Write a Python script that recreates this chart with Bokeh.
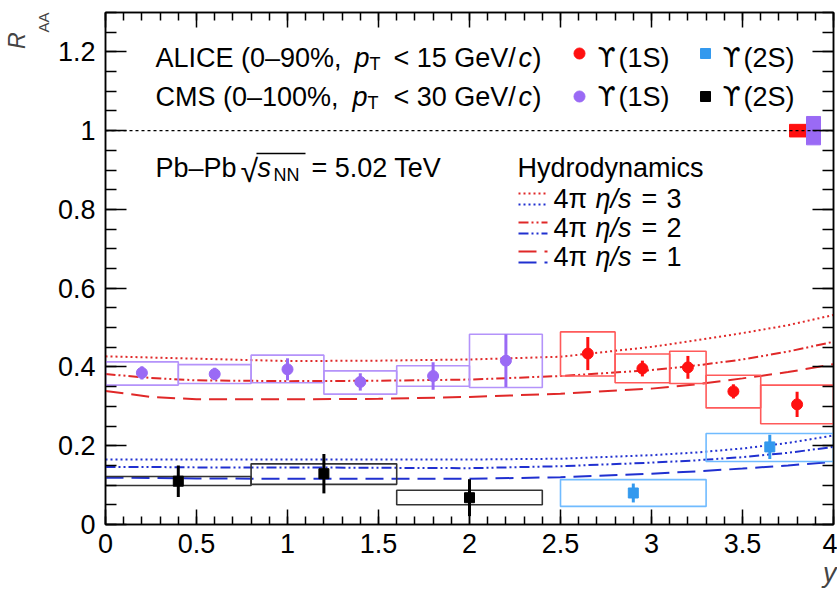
import numpy as np
from bokeh.plotting import figure
from bokeh.models import Range1d, LinearAxis, FixedTicker, Label, Span, Title
from bokeh.embed import file_html
from bokeh.resources import INLINE

FONT = "Liberation Sans"

# ---------------- data ----------------
x_ticks = [0, 0.5, 1, 1.5, 2, 2.5, 3, 3.5, 4]
x_tick_labels = ["0", "0.5", "1", "1.5", "2", "2.5", "3", "3.5", "4"]
y_ticks = [0, 0.2, 0.4, 0.6, 0.8, 1.0, 1.2]
y_tick_labels = ["0", "0.2", "0.4", "0.6", "0.8", "1", "1.2"]

# CMS Upsilon(1S)
cms1s_y = [0.2, 0.6, 1.0, 1.4, 1.8, 2.2]
cms1s_raa = [0.385, 0.382, 0.394, 0.362, 0.377, 0.416]
cms1s_stat = [0.017, 0.016, 0.028, 0.022, 0.035, 0.067]
cms1s_bin_lo = [0.0, 0.4, 0.8, 1.2, 1.6, 2.0]
cms1s_bin_hi = [0.4, 0.8, 1.2, 1.6, 2.0, 2.4]
cms1s_sys_lo = [0.354, 0.358, 0.360, 0.331, 0.351, 0.348]
cms1s_sys_hi = [0.413, 0.406, 0.430, 0.390, 0.403, 0.483]

# CMS Upsilon(2S)
cms2s_y = [0.4, 1.2, 2.0]
cms2s_raa = [0.110, 0.129, 0.068]
cms2s_stat = [0.040, 0.050, 0.047]
cms2s_bin_lo = [0.0, 0.8, 1.6]
cms2s_bin_hi = [0.8, 1.6, 2.4]
cms2s_sys_lo = [0.099, 0.102, 0.050]
cms2s_sys_hi = [0.122, 0.154, 0.087]

# ALICE Upsilon(1S)
alice1s_y = [2.65, 2.95, 3.2, 3.45, 3.8]
alice1s_raa = [0.434, 0.396, 0.399, 0.338, 0.305]
alice1s_stat = [0.042, 0.020, 0.029, 0.018, 0.032]
alice1s_bin_lo = [2.5, 2.8, 3.1, 3.3, 3.6]
alice1s_bin_hi = [2.8, 3.1, 3.3, 3.6, 4.0]
alice1s_sys_lo = [0.377, 0.360, 0.358, 0.296, 0.256]
alice1s_sys_hi = [0.489, 0.433, 0.440, 0.379, 0.354]

# ALICE Upsilon(2S)
alice2s_y = [2.9, 3.65]
alice2s_raa = [0.080, 0.197]
alice2s_stat = [0.024, 0.031]
alice2s_bin_lo = [2.5, 3.3]
alice2s_bin_hi = [3.3, 4.0]
alice2s_sys_lo = [0.046, 0.160]
alice2s_sys_hi = [0.114, 0.231]

# global (correlated) uncertainties at R_AA = 1
global_unc_alice = 0.016
global_unc_cms = 0.036

# hydrodynamics curves
hydro_y = [0, 0.25, 0.5, 1.0, 1.5, 2.0, 2.5, 3.0, 3.25, 3.5, 3.75, 4.0]
hydro_1s_eta3 = [0.427, 0.424, 0.421, 0.415, 0.416, 0.419, 0.426, 0.451, 0.468, 0.486, 0.506, 0.532]
hydro_1s_eta2 = [0.382, 0.372, 0.366, 0.364, 0.365, 0.368, 0.377, 0.392, 0.404, 0.419, 0.439, 0.464]
hydro_1s_eta1 = [0.339, 0.324, 0.318, 0.318, 0.319, 0.324, 0.332, 0.345, 0.356, 0.371, 0.387, 0.407]
hydro_2s_eta3 = [0.165, 0.165, 0.165, 0.165, 0.165, 0.165, 0.167, 0.176, 0.183, 0.193, 0.207, 0.226]
hydro_2s_eta2 = [0.146, 0.146, 0.145, 0.145, 0.144, 0.143, 0.148, 0.157, 0.163, 0.171, 0.182, 0.197]
hydro_2s_eta1 = [0.119, 0.118, 0.117, 0.116, 0.116, 0.116, 0.120, 0.129, 0.135, 0.142, 0.150, 0.159]

# ---------------- styling ----------------
C_ALICE1S = "#ff1010"
C_ALICE1S_BOX = "#ff5a5a"
C_CMS1S = "#9a6af5"
C_CMS1S_BOX = "#b493fa"
C_ALICE2S = "#3399ee"
C_ALICE2S_BOX = "#70bbff"
C_CMS2S = "#000000"
C_CMS2S_BOX = "#333333"
C_HRED = "#e02828"
C_HBLUE = "#2030d0"
DASH3 = "2 3"
DASH2 = "10 3 2 3 2 3"
DASH1 = "18 8"

W, H = 837, 594
X0, X1, Y0, Y1 = 0.0, 4.0, 0.0, 1.3

p = figure(width=W, height=H, x_range=Range1d(X0, X1), y_range=Range1d(Y0, Y1),
           output_backend="svg", toolbar_location=None,
           min_border_left=105, min_border_right=4, min_border_top=12, min_border_bottom=70)
p.xgrid.visible = False
p.ygrid.visible = False
p.outline_line_color = "black"
p.outline_line_width = 1.5
p.background_fill_color = "white"
p.border_fill_color = "white"

# reference-pixel to data helpers (annotation placement only)
def rx(px):
    return (px - 105) / (728 / 4.0)

def ry(py):
    return (524 - py) / (512 / 1.3)

x_minor = [i / 10 for i in range(41)]
y_minor = [i / 20 for i in range(27)]

def style_axis(ax, tin, tmin, labels):
    ax.axis_line_color = "black"
    ax.axis_line_width = 1.5
    ax.major_tick_line_color = "black"
    ax.minor_tick_line_color = "black"
    ax.major_tick_line_width = 1.5
    ax.minor_tick_line_width = 1.5
    ax.major_tick_in = tin
    ax.major_tick_out = 0
    ax.minor_tick_in = tmin
    ax.minor_tick_out = 0
    ax.major_label_text_font = FONT
    ax.major_label_text_font_size = "27px"
    ax.major_label_text_color = "black"
    ax.major_label_overrides = labels

xt = FixedTicker(ticks=x_ticks, minor_ticks=x_minor)
yt = FixedTicker(ticks=y_ticks, minor_ticks=y_minor)

p.xaxis[0].ticker = xt
p.yaxis[0].ticker = yt
style_axis(p.xaxis[0], 15, 8, {t: l for t, l in zip(x_ticks, x_tick_labels)})
style_axis(p.yaxis[0], 21, 11, {t: l for t, l in zip(y_ticks, y_tick_labels)})
p.xaxis[0].major_label_standoff = 9
p.yaxis[0].major_label_standoff = 10

top = LinearAxis(ticker=xt)
style_axis(top, 15, 8, {t: "" for t in x_ticks})
top.major_label_standoff = 0
top.major_label_text_font_size = "1px"
p.add_layout(top, "above")
right = LinearAxis(ticker=yt)
style_axis(right, 21, 11, {t: "" for t in y_ticks})
right.major_label_standoff = 0
right.major_label_text_font_size = "1px"
p.add_layout(right, "right")

# axis titles (as side-panel titles so they are not clipped)
t_aa = Title(text="AA", align="right", text_font=FONT, text_font_size="15px",
             text_font_style="normal", standoff=6, offset=0)
p.add_layout(t_aa, "left")
t_r = Title(text="R", align="right", text_font=FONT, text_font_size="23px",
            text_font_style="italic", standoff=0, offset=20)
p.add_layout(t_r, "left")
t_y = Title(text="y", align="right", text_font=FONT, text_font_size="27px",
            text_font_style="italic", standoff=0, offset=-3)
p.add_layout(t_y, "below")

# unity line
p.add_layout(Span(location=1.0, dimension="width", line_color="black",
                  line_width=1.2, line_dash="3 3"))

# hydro curves
for ys, col, dash in [(hydro_1s_eta3, C_HRED, DASH3), (hydro_1s_eta2, C_HRED, DASH2),
                      (hydro_1s_eta1, C_HRED, DASH1), (hydro_2s_eta3, C_HBLUE, DASH3),
                      (hydro_2s_eta2, C_HBLUE, DASH2), (hydro_2s_eta1, C_HBLUE, DASH1)]:
    p.line(hydro_y, ys, line_color=col, line_width=2, line_dash=dash)

# systematic boxes, stat error bars and points
def series(xv, raa, stat, blo, bhi, slo, shi, col, boxcol, marker, size):
    xv = np.array(xv); raa = np.array(raa); stat = np.array(stat)
    p.quad(left=blo, right=bhi, bottom=slo, top=shi, fill_alpha=0,
           line_color=boxcol, line_width=1.6)
    p.segment(x0=xv, y0=raa - stat, x1=xv, y1=raa + stat, line_color=col, line_width=3)
    p.scatter(xv, raa, marker=marker, size=size, fill_color=col, line_color=col)

series(cms1s_y, cms1s_raa, cms1s_stat, cms1s_bin_lo, cms1s_bin_hi, cms1s_sys_lo, cms1s_sys_hi,
       C_CMS1S, C_CMS1S_BOX, "circle", 11)
series(cms2s_y, cms2s_raa, cms2s_stat, cms2s_bin_lo, cms2s_bin_hi, cms2s_sys_lo, cms2s_sys_hi,
       C_CMS2S, C_CMS2S_BOX, "square", 10)
series(alice1s_y, alice1s_raa, alice1s_stat, alice1s_bin_lo, alice1s_bin_hi, alice1s_sys_lo,
       alice1s_sys_hi, C_ALICE1S, C_ALICE1S_BOX, "circle", 11)
series(alice2s_y, alice2s_raa, alice2s_stat, alice2s_bin_lo, alice2s_bin_hi, alice2s_sys_lo,
       alice2s_sys_hi, C_ALICE2S, C_ALICE2S_BOX, "square", 10)

# global uncertainty boxes
p.quad(left=[rx(789)], right=[rx(806)], bottom=[1 - global_unc_alice], top=[1 + global_unc_alice],
       fill_color=C_ALICE1S, line_color=C_ALICE1S)
p.quad(left=[rx(806)], right=[rx(820)], bottom=[1 - global_unc_cms], top=[1 + global_unc_cms],
       fill_color=C_CMS1S, line_color=C_CMS1S)

# ---------------- texts ----------------
DY = -9  # empirical baseline correction

def lab(px, py, text, size=27, style="normal", font=FONT, align="left"):
    p.add_layout(Label(x=rx(px), y=ry(py + DY), text=text, text_font=font,
                       text_font_size=f"{size}px", text_font_style=style,
                       text_color="black", text_baseline="alphabetic",
                       text_align=align))

R1, R2 = 66, 105
for base, exp, perc, lim in [(R1, "ALICE", "0–90%", "15"), (R2, "CMS", "0–100%", "30")]:
    lab(155, base, f"{exp} ({perc}, ")
    lab(354 if exp == "ALICE" else 352, base, "p", style="italic")
    lab(369 if exp == "ALICE" else 367, base + 6, "T", size=18)
    lab(393, base, f"< {lim} GeV/")
    lab(518, base, "c", style="italic")
    lab(532, base, ")")

# Upsilon legend
p.scatter([rx(579), rx(579)], [ry(53), ry(96)], marker="circle", size=11,
          fill_color=[C_ALICE1S, C_CMS1S], line_color=[C_ALICE1S, C_CMS1S])
p.scatter([rx(705), rx(705)], [ry(53), ry(96)], marker="square", size=10,
          fill_color=[C_ALICE2S, C_CMS2S], line_color=[C_ALICE2S, C_CMS2S])
for (px, base, st) in [(597, R1, "(1S)"), (722, R1, "(2S)"), (597, R2, "(1S)"), (722, R2, "(2S)")]:
    lab(px, base, "ϒ", font="DejaVu Sans", size=26)
    lab(px + 21, base, st)

# collision system
R3 = 176
lab(155, R3, "Pb–Pb")
lab(240, R3 + 3, "√", size=32)
p.segment(x0=[rx(256)], y0=[ry(153)], x1=[rx(305)], y1=[ry(153)], line_color="black", line_width=1.5)
lab(257, R3, "s", style="italic")
lab(273, R3 + 7, "NN", size=18)
lab(311, R3, "= 5.02 TeV")

# hydro legend
lab(517, R3, "Hydrodynamics")
for i, (dash, val) in enumerate([(DASH3, "3"), (DASH2, "2"), (DASH1, "1")]):
    base = 207 + 29 * i
    p.segment(x0=[rx(518)], y0=[ry(base - 14)], x1=[rx(547)], y1=[ry(base - 14)],
              line_color=C_HRED, line_width=2, line_dash=dash)
    p.segment(x0=[rx(518)], y0=[ry(base - 3)], x1=[rx(547)], y1=[ry(base - 3)],
              line_color=C_HBLUE, line_width=2, line_dash=dash)
    lab(553, base, "4π")
    lab(595, base, "η/s", style="italic")
    lab(641, base, "=")
    lab(666, base, val)

open("out.html", "w").write(file_html(p, INLINE))
